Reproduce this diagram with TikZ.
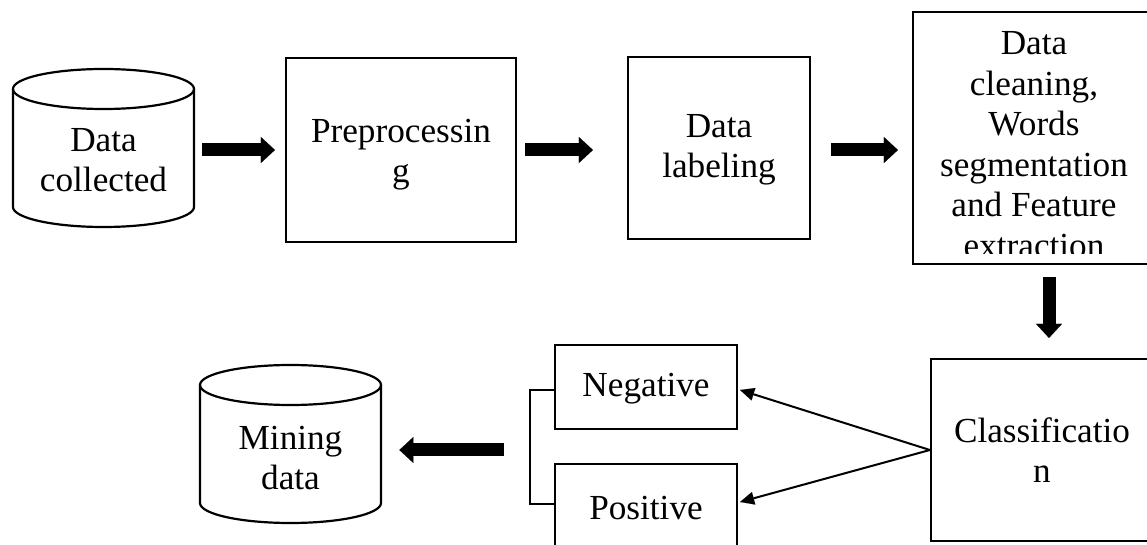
\documentclass[tikz,border=0pt]{standalone}
\usepackage{fontspec}
\setmainfont{Liberation Serif}
\usetikzlibrary{arrows.meta,calc}
\begin{document}
\begin{tikzpicture}[x=0.5pt,y=-0.5pt,
  line/.style={line width=1.1pt, draw=black},
  boxnode/.style={line, rectangle, inner sep=0pt, align=center, font=\fontsize{17.6}{20}\selectfont},
  txt/.style={inner sep=0pt, align=center, font=\fontsize{17.6}{20}\selectfont},
  cylbox/.style={inner sep=0pt, minimum width=90.5pt, minimum height=79pt},
  bigarrow/.style={line width=6.5pt, -{Triangle[length=7pt,width=13pt,line width=0.01pt]}},
  thinarrow/.style={line width=1pt, -{Triangle[length=7pt,width=6.5pt,line width=0.01pt]}}
]
\useasboundingbox (0,0) rectangle (1147,545);
\fill[white] (0,0) rectangle (1147,545);
\clip (0,0) rectangle (1147,545);

% Data collected cylinder
\node[cylbox] (dc) at (103.5,148) {};
\draw[line] (13,89) -- (13,207) arc[start angle=180,end angle=360,x radius=45.25pt,y radius=10pt] -- (194,89);
\draw[line] (103.5,89) ellipse [x radius=45.25pt, y radius=10pt];
\node[txt] (dctext) at ($(dc)+(0,12.6)$) {Data\\collected};

% top row boxes
\node[boxnode, minimum width=115pt, minimum height=92pt] (pre) at (401,150) {};
\node[txt] (pretext) at ($(pre)+(0,4.5)$) {Preprocessin\\g};
\node[boxnode, minimum width=91pt, minimum height=91pt] (lab) at (719,148) {};
\node[txt] (labtext) at ($(lab)+(0,2)$) {Data\\labeling};
\node[boxnode, minimum width=122pt, minimum height=126pt] (big) at (1035,138) {};
\begin{scope}
  \clip (913,12) rectangle (1160,254);
  \node[txt, anchor=north, font=\fontsize{17.6}{20.25}\selectfont] (bigtext) at (1034,31.5) {Data\\cleaning,\\Words\\segmentation\\and Feature\\extraction};
\end{scope}

% bottom row
\node[boxnode, minimum width=111pt, minimum height=91pt] (cls) at (1042,450) {Classificatio\\n};
\node[boxnode, minimum width=91pt, minimum height=42pt] (neg) at (646,387) {};
\node[txt] (negtext) at ($(neg)+(0,2)$) {Negative};
\node[boxnode, minimum width=91pt, minimum height=42pt] (pos) at (646,506) {};
\node[txt] (postext) at ($(pos)+(0,2)$) {Positive};

% Mining data cylinder
\node[cylbox] (md) at (290.5,444) {};
\draw[line] (200,385) -- (200,503) arc[start angle=180,end angle=360,x radius=45.25pt,y radius=10pt] -- (381,385);
\draw[line] (290.5,385) ellipse [x radius=45.25pt, y radius=10pt];
\node[txt] (mdtext) at ($(md)+(0,14)$) {Mining\\data};

% connectors
\draw[bigarrow] ($(dc.east)+(8,2)$) -- ($(pre.west)+(-10,0)$);
\draw[bigarrow] ($(pre.east)+(8,0)$) -- ($(lab.west)+(-34,2)$);
\draw[bigarrow] ($(lab.east)+(20,2)$) -- ($(big.west)+(-14,12)$);
\draw[bigarrow] ($(big.south)+(14,12)$) -- ($(cls.north)+(7,-20)$);
\draw[thinarrow] (cls.west) -- ($(neg.east)+(2,3)$);
\draw[thinarrow] (cls.west) -- ($(pos.east)+(2,-4)$);
\draw[line] ($(neg.west)+(0,3)$) -- ++(-24,0) |- ($(pos.west)+(0,-2)$);
\coordinate (brk) at ($(neg.west)!0.5!(pos.west)$);
\draw[bigarrow] ($(brk)+(-50,3.5)$) -- ($(md.east)+(18,6)$);
\end{tikzpicture}
\end{document}
